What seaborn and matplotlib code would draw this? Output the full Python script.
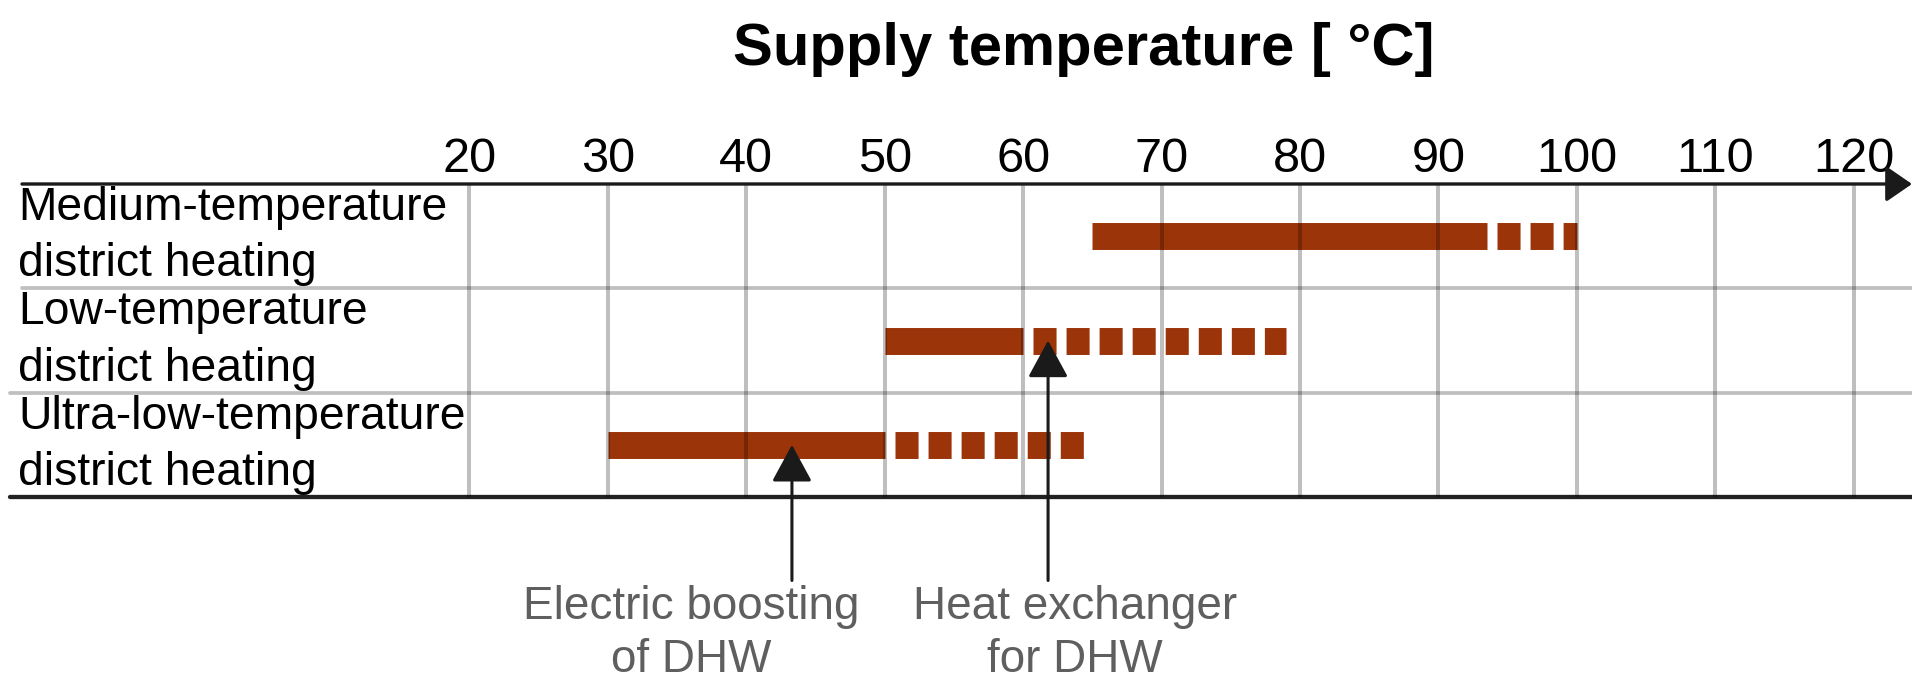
import pandas as pd
import seaborn as sns
import matplotlib.pyplot as plt
from matplotlib import transforms

# data
systems = ['Medium-temperature\ndistrict heating',
           'Low-temperature\ndistrict heating',
           'Ultra-low-temperature\ndistrict heating']
solid_start = [65, 50, 30]
solid_end = [93.5, 60, 50]
dashed_end = [100, 79, 65]
ticks = [20, 30, 40, 50, 60, 70, 80, 90, 100, 110, 120]

notes = ['Electric boosting\nof DHW', 'Heat exchanger\nfor DHW']
note_temp = [43.3, 61.8]
note_system = [2, 1]

bar_color = '#9c3409'

# long-form tables for seaborn
solid_df = pd.DataFrame({
    'system': systems * 2,
    'temp': solid_start + solid_end,
    'row': list(range(3)) * 2,
})
dash_df = pd.DataFrame({
    'system': systems * 2,
    'temp': solid_end + dashed_end,
    'row': list(range(3)) * 2,
})

sns.set_theme(style='white')
plt.rcParams['font.family'] = ['Liberation Sans', 'DejaVu Sans']
plt.rcParams['lines.scale_dashes'] = False

fig = plt.figure(figsize=(19.12, 6.83), dpi=100)
ax = fig.add_axes([0, 1 - 497 / 683, 1, (497 - 184) / 683])

sns.lineplot(data=solid_df, x='temp', y='row', units='system', estimator=None,
             sort=False, color=bar_color, linewidth=19.4, solid_capstyle='butt',
             legend=False, ax=ax)
sns.lineplot(data=dash_df, x='temp', y='row', units='system', estimator=None,
             sort=False, color=bar_color, linewidth=19.4, dash_capstyle='butt',
             linestyle=(16.6, (16.6, 7.2)), legend=False, ax=ax)

ax.set_xlim(-13.9, 124.2)
ax.set_ylim(2.5, -0.5)
ax.set_xlabel('')
ax.set_ylabel('')
ax.set_yticks([])
ax.set_xticks(ticks)
ax.xaxis.tick_top()
ax.tick_params(axis='x', length=0, pad=1.5, labelsize=35, labelcolor='black')
for s in ax.spines.values():
    s.set_visible(False)

# grid over the bars, semi-transparent
ax.set_axisbelow(False)
ax.grid(axis='x', color='black', alpha=0.25, linewidth=2.9)
ax.grid(axis='y', visible=False)
ax.axhline(0.5, xmin=22 / 1912, xmax=1, color='black', alpha=0.25, lw=2.7)
ax.axhline(1.5, xmin=10 / 1912, xmax=1, color='black', alpha=0.25, lw=2.7)
ax.axhline(2.5, xmin=10 / 1912, xmax=1, color='#222222', lw=3.1, clip_on=False)

# top axis arrow
ax.annotate('', xy=(1.0, 1.0), xytext=(22 / 1912, 1.0), xycoords='axes fraction',
            arrowprops=dict(arrowstyle='-|>,head_length=16,head_width=11',
                            mutation_scale=1, lw=2.4, color='#1a1a1a',
                            shrinkA=0, shrinkB=0))

# row labels
trans = transforms.blended_transform_factory(ax.transAxes, ax.transData)
for i, name in enumerate(systems):
    ax.text(18 / 1912, i, name, transform=trans, ha='left', va='center',
            fontsize=33.3, color='black', linespacing=1.36)

# annotations below the chart
text_x = [36.0, 63.75]
for note, t, r, tx in zip(notes, note_temp, note_system, text_x):
    ax.annotate('', xy=(t, r), xytext=(t, 3.3), annotation_clip=False,
                arrowprops=dict(arrowstyle='-|>,head_length=23,head_width=12.5',
                                mutation_scale=1, lw=2.2, color='#1a1a1a',
                                shrinkA=0, shrinkB=0))
    ax.text(tx, 3.34, note, ha='center', va='top', fontsize=33,
            color='#5f5f5f', linespacing=1.28, clip_on=False)

fig.text(1084 / 1912, 1 - 65 / 683, 'Supply temperature [ °C]', ha='center',
         va='baseline', fontsize=43, fontweight='bold', color='black')

fig.savefig('out.png', dpi=100)
